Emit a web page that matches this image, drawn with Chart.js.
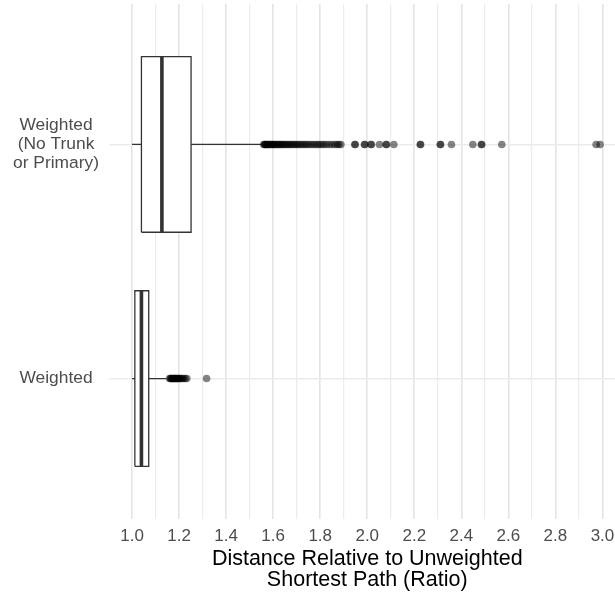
<!DOCTYPE html>
<html>
<head>
<meta charset="utf-8">
<script src="https://cdn.jsdelivr.net/npm/chart.js@4.4.1/dist/chart.umd.min.js"></script>
<style>
  html, body { margin: 0; padding: 0; background: #fff; overflow: hidden; }
  #wrap { width: 630px; height: 596px; }
</style>
</head>
<body>
<div id="wrap"><canvas id="chart" width="630" height="596"></canvas></div>
<script>
// --- DATA ---
const CATEGORY_LABELS = ['Weighted', ['Weighted', '(No Trunk', 'or Primary)']];
const CATEGORY_POS = [0, 1];

const LOWER_WHISKER = [1.000, 1.000];
const Q1 = [1.012, 1.040];
const MEDIAN = [1.040, 1.127];
const Q3 = [1.071, 1.251];
const UPPER_WHISKER = [1.145, 1.552];

const OUTLIERS_WEIGHTED = [
    1.160, 1.163, 1.166, 1.169, 1.172, 1.175, 1.178, 1.181, 1.184, 1.187,
    1.190, 1.193, 1.196, 1.200, 1.204, 1.208, 1.213, 1.219, 1.226, 1.233,
    1.317
];
const OUTLIERS_NO_TRUNK = [
    1.560, 1.563, 1.566, 1.569, 1.572, 1.575, 1.579, 1.583, 1.587, 1.591,
    1.595, 1.600, 1.604, 1.608, 1.613, 1.618, 1.623, 1.628, 1.633, 1.638,
    1.643, 1.649, 1.655, 1.661, 1.667, 1.673, 1.680, 1.687, 1.694, 1.701,
    1.708, 1.716, 1.724, 1.732, 1.740, 1.749, 1.758, 1.768, 1.778, 1.787,
    1.796, 1.806, 1.815, 1.826, 1.838, 1.850, 1.862, 1.872, 1.880, 1.888,
    1.947, 1.949, 1.988, 1.990, 2.015, 2.018, 2.052, 2.080, 2.082, 2.113,
    2.225, 2.227, 2.310, 2.312, 2.358, 2.449, 2.485, 2.487, 2.572, 2.973,
    2.990
];
const OUTLIERS = [OUTLIERS_WEIGHTED, OUTLIERS_NO_TRUNK];

const X_TICKS = [1.0, 1.2, 1.4, 1.6, 1.8, 2.0, 2.2, 2.4, 2.6, 2.8, 3.0];
const X_TICK_LABELS = ['1.0', '1.2', '1.4', '1.6', '1.8', '2.0', '2.2', '2.4', '2.6', '2.8', '3.0'];
const X_MINOR = [1.1, 1.3, 1.5, 1.7, 1.9, 2.1, 2.3, 2.5, 2.7, 2.9, 3.1];

// --- STYLE ---
const BOX_HALF = 0.375;
const INK = '#333333';
const FONT = "'Liberation Sans', Arial, sans-serif";

// --- DATASETS ---
const datasets = [];
CATEGORY_POS.forEach((c, i) => {
    const lo = c - BOX_HALF, hi = c + BOX_HALF;
    // box body (white fill hides the grid)
    datasets.push({
        data: [{x: Q1[i], y: lo}, {x: Q3[i], y: lo}, {x: Q3[i], y: hi}, {x: Q1[i], y: hi}, {x: Q1[i], y: lo}],
        borderColor: INK, borderWidth: 1.3, backgroundColor: '#ffffff',
        fill: 'shape', pointRadius: 0, order: 3
    });
    // whiskers
    datasets.push({
        data: [{x: LOWER_WHISKER[i], y: c}, {x: Q1[i], y: c}],
        borderColor: INK, borderWidth: 1.3, pointRadius: 0, order: 2
    });
    datasets.push({
        data: [{x: Q3[i], y: c}, {x: UPPER_WHISKER[i], y: c}],
        borderColor: INK, borderWidth: 1.3, pointRadius: 0, order: 2
    });
    // median
    datasets.push({
        data: [{x: MEDIAN[i], y: lo}, {x: MEDIAN[i], y: hi}],
        borderColor: INK, borderWidth: 3.6, pointRadius: 0, order: 1
    });
    // outliers
    datasets.push({
        data: OUTLIERS[i].map(v => ({x: v, y: c})),
        showLine: false, pointRadius: 3.8, pointBorderWidth: 0,
        pointBackgroundColor: 'rgba(0,0,0,0.48)', order: 0
    });
});

new Chart(document.getElementById('chart'), {
    type: 'line',
    data: { datasets: datasets },
    options: {
        responsive: false,
        animation: false,
        layout: { padding: { top: 4, left: 0, right: 0, bottom: 0 } },
        plugins: { legend: { display: false }, tooltip: { enabled: false } },
        elements: { line: { tension: 0 } },
        scales: {
            x: {
                type: 'linear',
                min: 0.9,
                max: 3.1,
                afterBuildTicks: (scale) => {
                    scale.ticks = [...X_TICKS, ...X_MINOR].sort((a, b) => a - b).map(v => ({ value: v }));
                },
                afterFit: (scale) => {
                    scale.height = 77;
                    scale.paddingLeft = 0;
                    scale.paddingRight = 0;
                },
                grid: {
                    drawTicks: false,
                    color: ctx => X_TICKS.includes(ctx.tick.value) ? '#e4e4e4' : '#ececec',
                    lineWidth: ctx => X_TICKS.includes(ctx.tick.value) ? 1.6 : 1.2
                },
                border: { display: false },
                ticks: {
                    autoSkip: false,
                    maxRotation: 0,
                    padding: 7,
                    color: '#4d4d4d',
                    font: { family: FONT, size: 17 },
                    callback: (value) => {
                        const k = X_TICKS.indexOf(value);
                        return k >= 0 ? X_TICK_LABELS[k] : '';
                    }
                },
                title: {
                    display: true,
                    text: ['Distance Relative to Unweighted', 'Shortest Path (Ratio)'],
                    color: '#000000',
                    font: { family: FONT, size: 21.5, lineHeight: 0.95 },
                    padding: { top: 0, bottom: 6 }
                }
            },
            y: {
                type: 'linear',
                min: -0.6,
                max: 1.6,
                afterBuildTicks: (scale) => {
                    scale.ticks = CATEGORY_POS.map(v => ({ value: v }));
                },
                afterFit: (scale) => {
                    scale.width = 108.5;
                    scale.paddingTop = 0;
                    scale.paddingBottom = 0;
                },
                grid: { drawTicks: false, color: '#ebebeb', lineWidth: 1.6 },
                border: { display: false },
                ticks: {
                    crossAlign: 'center',
                    padding: 9.5,
                    color: '#4d4d4d',
                    font: { family: FONT, size: 17.4, lineHeight: 1.1 },
                    callback: (value) => CATEGORY_LABELS[CATEGORY_POS.indexOf(value)]
                }
            }
        }
    }
});
</script>
</body>
</html>
